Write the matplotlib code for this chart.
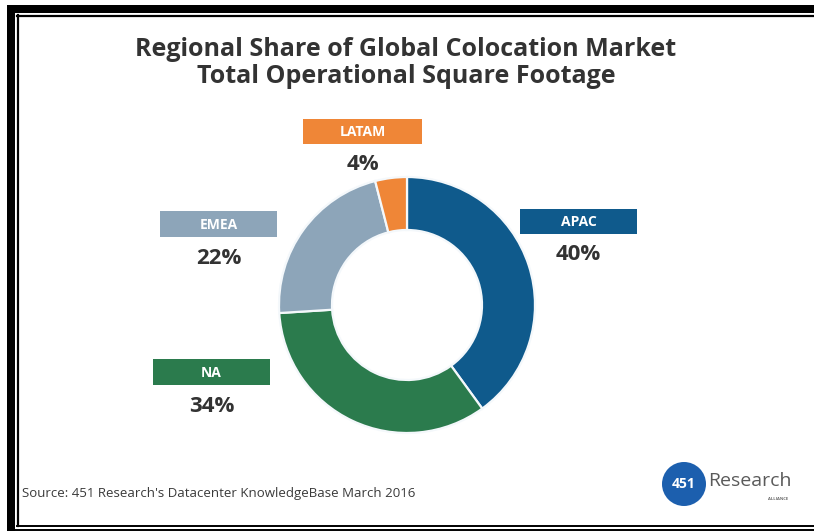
import matplotlib.pyplot as plt
from matplotlib.patches import Rectangle, Circle

# regional share of colocation square footage (percent)
regions = ['APAC', 'NA', 'EMEA', 'LATAM']
shares = [40, 34, 22, 4]
colors = ['#0f5a8c', '#2b7b4d', '#8da5b9', '#ef8637']

title = 'Regional Share of Global Colocation Market\nTotal Operational Square Footage'
source = "Source: 451 Research's Datacenter KnowledgeBase March 2016"

# label box placement in pixel coordinates (left, top, width, height)
boxes = {
    'APAC': (520, 209, 117, 25),
    'NA': (153, 359, 117, 26),
    'EMEA': (160, 211, 117, 26),
    'LATAM': (303, 119, 119, 25),
}

W, H = 814, 531
fig = plt.figure(figsize=(W / 100, H / 100), dpi=100)
fig.patch.set_facecolor('white')

# overlay in pixel units for frame, text and label boxes
bg = fig.add_axes([0, 0, 1, 1])
bg.set_xlim(0, W)
bg.set_ylim(H, 0)
bg.axis('off')

# frame: thick outer band plus a thin inner rule
bg.add_patch(Rectangle((7, 5), W - 7, 8, color='black', lw=0))
bg.add_patch(Rectangle((7, 5), 8, H - 5, color='black', lw=0))
bg.plot([17, W], [15.5, 15.5], color='black', lw=1.6)
bg.plot([17.5, 17.5], [15, 526], color='black', lw=1.6)
bg.plot([17, W], [525.5, 525.5], color='black', lw=1.4)
bg.plot([15, W], [530, 530], color='black', lw=1.4)

bg.text(406, 63, title, ha='center', va='center', fontsize=18,
        fontweight='bold', color='#333333', family='Open Sans',
        linespacing=1.1)

# donut
cx, cy, r = 407, 305, 128
ax = fig.add_axes([(cx - r) / W, (H - cy - r) / H, 2 * r / W, 2 * r / H])
ax.pie(shares, colors=colors, startangle=90, counterclock=False, radius=1,
       wedgeprops=dict(width=53 / 128, edgecolor='#f4f8fb', linewidth=1.6))
ax.set_xlim(-1, 1)
ax.set_ylim(-1, 1)
ax.axis('off')

# labelled boxes with percentage beneath
for name, val, col in zip(regions, shares, colors):
    x0, y0, bw, bh = boxes[name]
    bg.add_patch(Rectangle((x0, y0), bw, bh, color=col, lw=0))
    bg.text(x0 + bw / 2, y0 + bh / 2 + 1, name, ha='center', va='center',
            fontsize=10, fontweight='bold', color='white', family='Open Sans')
    bg.text(x0 + bw / 2, y0 + bh + 21, f'{val}%', ha='center', va='center',
            fontsize=16, fontweight='bold', color='#333333', family='Open Sans')

bg.text(22, 494, source, ha='left', va='center', fontsize=9.5,
        color='#3a3a3a', family='Open Sans')

# 451 Research logo
bg.add_patch(Circle((684, 484), 22, color='#1c5fae', lw=0))
bg.text(684, 484, '451', ha='center', va='center', fontsize=10,
        fontweight='bold', color='white', family='Open Sans')
bg.text(708, 481, 'Research', ha='left', va='center', fontsize=14,
        color='#5a5a5a', family='Open Sans')
bg.text(778, 499, 'ALLIANCE', ha='center', va='center', fontsize=3,
        fontweight='bold', color='#666666', family='Open Sans')

fig.savefig('out.png', dpi=100, facecolor='white')
